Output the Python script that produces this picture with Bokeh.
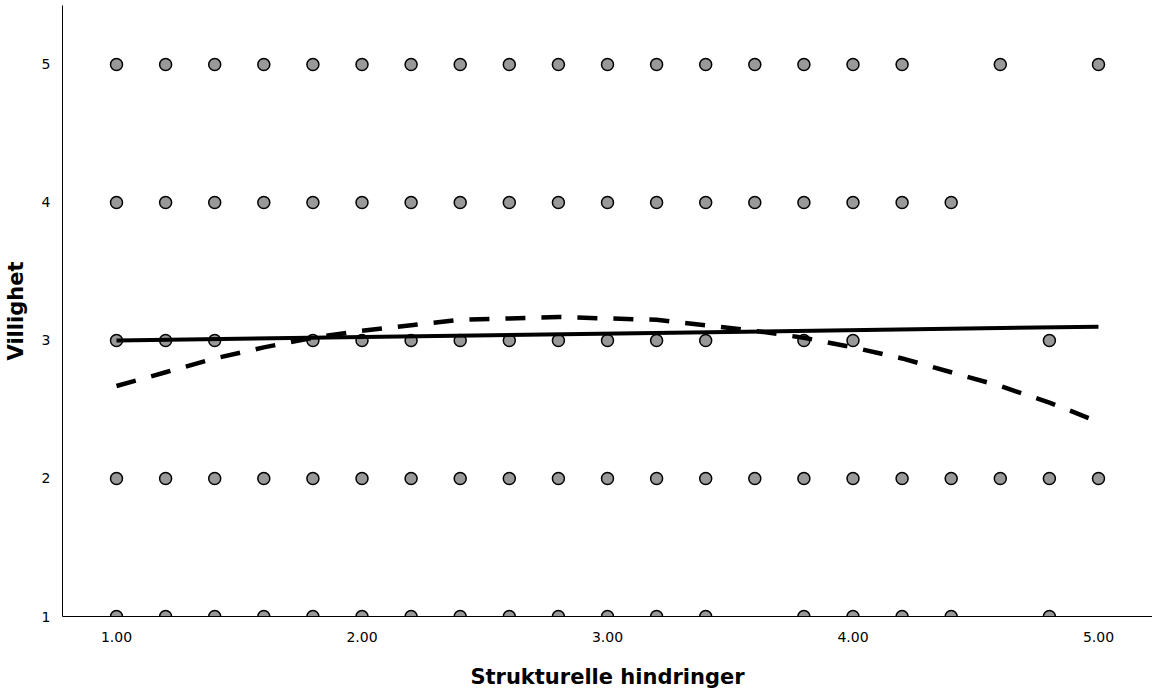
from bokeh.plotting import figure
from bokeh.models import Range1d, FixedTicker, ColumnDataSource
from bokeh.embed import file_html
from bokeh.resources import INLINE

# ---- data ----
x_at_5 = [1.0, 1.2, 1.4, 1.6, 1.8, 2.0, 2.2, 2.4, 2.6, 2.8, 3.0, 3.2, 3.4, 3.6, 3.8, 4.0, 4.2, 4.6, 5.0]
x_at_4 = [1.0, 1.2, 1.4, 1.6, 1.8, 2.0, 2.2, 2.4, 2.6, 2.8, 3.0, 3.2, 3.4, 3.6, 3.8, 4.0, 4.2, 4.4]
x_at_3 = [1.0, 1.2, 1.4, 1.8, 2.0, 2.2, 2.4, 2.6, 2.8, 3.0, 3.2, 3.4, 3.8, 4.0, 4.8]
x_at_2 = [1.0, 1.2, 1.4, 1.6, 1.8, 2.0, 2.2, 2.4, 2.6, 2.8, 3.0, 3.2, 3.4, 3.6, 3.8, 4.0, 4.2, 4.4, 4.6, 4.8, 5.0]
x_at_1 = [1.0, 1.2, 1.4, 1.6, 1.8, 2.0, 2.2, 2.4, 2.6, 2.8, 3.0, 3.2, 3.4, 3.8, 4.0, 4.2, 4.4, 4.8]

linear_x = [1.0, 5.0]
linear_y = [3.00, 3.10]

quad_x = [1.0, 1.2, 1.4, 1.6, 1.8, 2.0, 2.2, 2.4, 2.6, 2.8, 3.0,
          3.2, 3.4, 3.6, 3.8, 4.0, 4.2, 4.4, 4.6, 4.8, 5.0]
quad_y = [2.67, 2.77, 2.87, 2.95, 3.02, 3.07, 3.11, 3.15, 3.16, 3.17, 3.16,
          3.15, 3.11, 3.07, 3.02, 2.95, 2.87, 2.77, 2.67, 2.55, 2.41]

x_ticks = [1, 2, 3, 4, 5]
x_tick_labels = ["1.00", "2.00", "3.00", "4.00", "5.00"]
y_ticks = [1, 2, 3, 4, 5]
y_tick_labels = ["1", "2", "3", "4", "5"]

x_title = "Strukturelle hindringer"
y_title = "Villighet"

# ---- build ----
xs, ys = [], []
for level, arr in [(5, x_at_5), (4, x_at_4), (3, x_at_3), (2, x_at_2), (1, x_at_1)]:
    xs.extend(arr)
    ys.extend([level] * len(arr))
src = ColumnDataSource(dict(x=xs, y=ys))

p = figure(width=1152, height=697, output_backend="svg", toolbar_location=None,
           x_range=Range1d(0.78, 5.22), y_range=Range1d(1.0, 5.4275),
           min_border_left=62, min_border_right=0, min_border_top=5, min_border_bottom=81)
p.outline_line_color = None
p.grid.visible = False
p.background_fill_color = "white"
p.border_fill_color = "white"

p.scatter("x", "y", source=src, size=12, fill_color="#999999", line_color="black", line_width=1.5)
p.line(linear_x, linear_y, line_color="black", line_width=4)
p.line(quad_x, quad_y, line_color="black", line_width=4.5, line_dash="20 16")

FONT = "DejaVu Sans"
for ax in (p.xaxis[0], p.yaxis[0]):
    ax.major_tick_line_color = None
    ax.minor_tick_line_color = None
    ax.axis_line_color = "black"
    ax.axis_line_width = 1
    ax.major_label_text_font = FONT
    ax.major_label_text_font_size = "14px"
    ax.major_label_text_color = "black"
    ax.axis_label_text_font = FONT
    ax.axis_label_text_font_size = "21px"
    ax.axis_label_text_font_style = "bold"
    ax.axis_label_text_color = "black"

p.xaxis.major_label_standoff = 9
p.yaxis.major_label_standoff = 6
p.xaxis.ticker = FixedTicker(ticks=x_ticks)
p.xaxis.major_label_overrides = {t: s for t, s in zip(x_ticks, x_tick_labels)}
p.yaxis.ticker = FixedTicker(ticks=y_ticks)
p.yaxis.major_label_overrides = {t: s for t, s in zip(y_ticks, y_tick_labels)}
p.xaxis.axis_label = x_title
p.yaxis.axis_label = y_title
p.xaxis.axis_label_standoff = 20
p.yaxis.axis_label_standoff = 11

open("out.html", "w").write(file_html(p, INLINE))
